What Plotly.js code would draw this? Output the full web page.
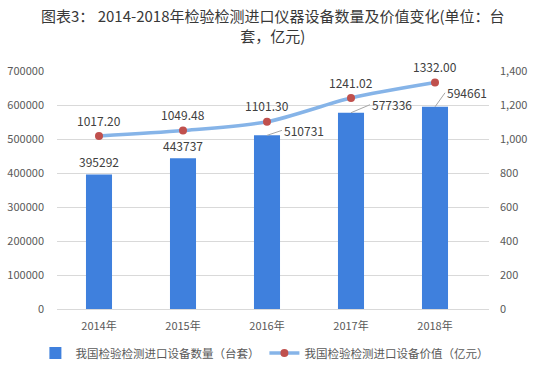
<!DOCTYPE html>
<html><head><meta charset="utf-8">
<script src="https://cdn.plot.ly/plotly-3.0.1.min.js"></script>
<style>html,body{margin:0;padding:0;background:#fff}#c{width:534px;height:368px}</style>
</head><body><div id="c"></div>
<script>
const years = ["2014年","2015年","2016年","2017年","2018年"];
const quantity = [395292, 443737, 510731, 577336, 594661];
const value = [1017.20, 1049.48, 1101.30, 1241.02, 1332.00];
const valueLabels = ["1017.20","1049.48","1101.30","1241.02","1332.00"];
const barName = "我国检验检测进口设备数量（台套）";
const lineName = "我国检验检测进口设备价值（亿元）";
const titleText = "图表3： 2014-2018年检验检测进口仪器设备数量及价值变化(单位：台<br>套，亿元)";

const font = "Noto Sans CJK SC, Noto Sans, sans-serif";
const txt = "#404040";

const traces = [
  {type:"bar", x:years, y:quantity, name:barName, marker:{color:"#3f80dd"}, yaxis:"y", hoverinfo:"none"},
  {type:"scatter", mode:"lines+markers", x:years, y:value, name:lineName, yaxis:"y2",
   line:{color:"#86b4e8", width:3.5, shape:"spline", smoothing:0.8},
   marker:{color:"#c0504d", size:8}, hoverinfo:"none"}
];

const annotations = [];
// title
annotations.push({xref:"paper", yref:"paper", x:0.5, y:1.285, xanchor:"center", yanchor:"top",
  text:titleText, showarrow:false, font:{size:15, color:"#383838", family:font}});
// line labels
value.forEach((v,i)=>{
  annotations.push({x:years[i], y:v, xref:"x", yref:"y2", text:valueLabels[i], showarrow:false,
    yshift:16, font:{size:12, color:txt, family:font}});
});
// bar labels (leader-line offsets for the three right bars)
const leadAx = [0, 0, 15, 19, 10];
const leadAy = [0, 0, -5, -8, -14];
quantity.forEach((q,i)=>{
  if(i<2){
    annotations.push({x:years[i], y:q, xref:"x", yref:"y", text:String(q), showarrow:false,
      yshift:13, font:{size:12, color:txt, family:font}});
  } else {
    annotations.push({x:years[i], y:q, xref:"x", yref:"y", text:String(q), showarrow:true,
      arrowhead:0, arrowwidth:1, arrowcolor:"#a6a6a6", ax:leadAx[i], ay:leadAy[i], xanchor:"left",
      standoff:0, startstandoff:0,
      font:{size:12, color:txt, family:font}});
  }
});

const layout = {
  width:534, height:368,
  margin:{l:57, r:45, t:71, b:59, autoexpand:false},
  paper_bgcolor:"#fff", plot_bgcolor:"#fff",
  font:{family:font, color:"#595959", size:11},
  bargap:0.69,
  showlegend:true,
  legend:{orientation:"h", x:-0.05, xanchor:"left", y:-0.185, yanchor:"middle",
    font:{size:11.5, color:"#595959", family:font}, itemwidth:30, tracegroupgap:0},
  xaxis:{type:"category", showgrid:false, showline:true, linecolor:"#d9d9d9", linewidth:1,
    ticks:"", ticklabelstandoff:7, tickfont:{size:11, color:"#595959"}},
  yaxis:{range:[0,700000], dtick:100000, tickformat:"d", showgrid:true, gridcolor:"#d9d9d9",
    zeroline:false, showline:false, ticks:"", ticklabelstandoff:12, tickfont:{size:11, color:"#595959"}},
  yaxis2:{range:[0,1400], dtick:200, tickformat:",", overlaying:"y", side:"right", showgrid:false,
    zeroline:false, showline:false, ticks:"", ticklabelstandoff:10, tickfont:{size:11, color:"#595959"}},
  annotations:annotations
};
Plotly.newPlot("c", traces, layout, {staticPlot:true, displayModeBar:false});
</script></body></html>
